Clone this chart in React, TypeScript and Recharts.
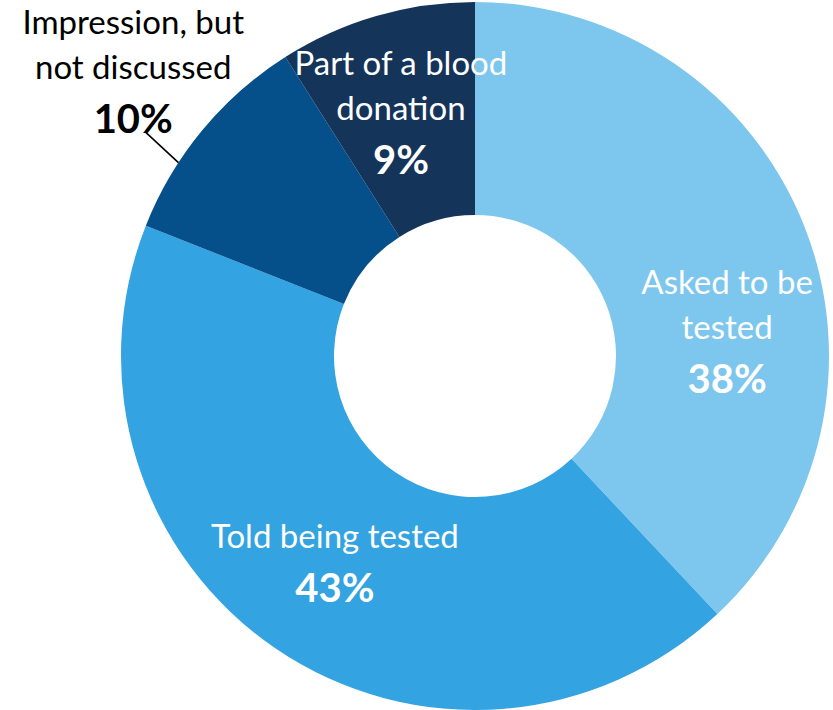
import React from "react";
import { PieChart, Pie, Cell } from "recharts";

const categories = ["Asked to be tested", "Told being tested", "Impression, but not discussed", "Part of a blood donation"];
const values = [38, 43, 10, 9];
const labelLines = [["Asked to be", "tested"], ["Told being tested"], ["Impression, but", "not discussed"], ["Part of a blood", "donation"]];
const colors = ["#7DC6EE", "#33A3E1", "#05508A", "#15345A"];

const data = categories.map((name, i) => ({ name, value: values[i] }));

const FONT = "Lato, 'Open Sans', sans-serif";
const NORMAL = 33;
const BOLD = 40;
const LINE = 45;
const BOLD_GAP = 54;

// label offsets relative to the mid-ring point (inside) or outer mid point (outside)
const offsets = [
  { dx: 22, dy: 29, outside: false },
  { dx: -1, dy: -13, outside: false },
  { dx: -69, dy: -96, outside: true },
  { dx: -5, dy: -43, outside: false },
];

const RAD = Math.PI / 180;

const renderLabel = (props: any) => {
  const { cx, cy, midAngle, innerRadius, outerRadius, index } = props;
  const o = offsets[index];
  const r = o.outside ? outerRadius : (innerRadius + outerRadius) / 2;
  const px = cx + r * Math.cos(-midAngle * RAD);
  const py = cy + r * Math.sin(-midAngle * RAD);
  const x = px + o.dx;
  const y = py + o.dy;
  const lines = labelLines[index];
  const fill = o.outside ? "#000000" : "#FFFFFF";
  const lastNormal = y + (lines.length - 1) * LINE;
  let leader = null;
  if (o.outside) {
    const a = (midAngle + 6.5) * RAD;
    const ex = cx + outerRadius * Math.cos(-a);
    const ey = cy + outerRadius * Math.sin(-a);
    leader = <line x1={px - 57} y1={py + 1.5} x2={ex} y2={ey} stroke="#000" strokeWidth={1.6} />;
  }
  return (
    <g>
      {leader}
      {lines.map((t, i) => (
        <text key={i} x={x} y={y + i * LINE} textAnchor="middle" fill={fill} fontFamily={FONT} fontSize={NORMAL}>
          {t}
        </text>
      ))}
      <text x={x} y={lastNormal + BOLD_GAP} textAnchor="middle" fill={fill} fontFamily={FONT} fontSize={BOLD} fontWeight="bold">
        {values[index]}%
      </text>
    </g>
  );
};

export default function App() {
  return (
    <div style={{ position: "absolute", left: 0, top: 0, width: 833, height: 710, background: "#fff" }}>
      <PieChart width={833} height={710} margin={{ top: 0, right: 0, bottom: 0, left: 0 }}>
        <Pie
          data={data}
          dataKey="value"
          nameKey="name"
          cx={475}
          cy={356}
          innerRadius={141}
          outerRadius={354}
          startAngle={90}
          endAngle={-270}
          stroke="none"
          label={renderLabel}
          labelLine={false}
          isAnimationActive={false}
        >
          {data.map((d, i) => (
            <Cell key={d.name} fill={colors[i]} />
          ))}
        </Pie>
      </PieChart>
    </div>
  );
}
